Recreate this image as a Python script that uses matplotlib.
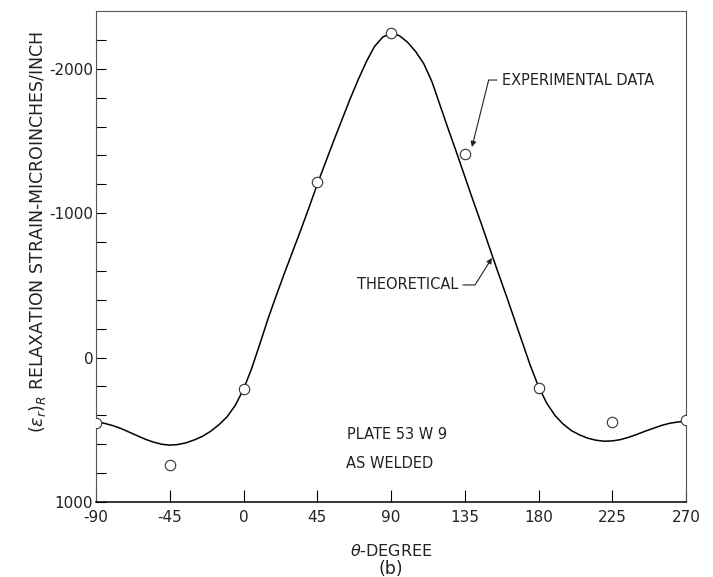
import numpy as np
import matplotlib.pyplot as plt

# theoretical curve, every 5 degrees
theta_curve = [-90, -85, -80, -75, -70, -65, -60, -55, -50, -45, -40, -35, -30, -25,
               -20, -15, -10, -5, 0, 5, 10, 15, 20, 25, 30, 35, 40, 45, 50, 55, 60,
               65, 70, 75, 80, 85, 90, 95, 100, 105, 110, 115, 120, 125, 130, 135,
               140, 145, 150, 155, 160, 165, 170, 175, 180, 185, 190, 195, 200, 205,
               210, 215, 220, 225, 230, 235, 240, 245, 250, 255, 260, 265, 270]
strain_curve = [445, 455, 470, 490, 515, 540, 565, 585, 600, 606, 602, 590, 570, 545,
                510, 465, 410, 330, 220, 75, -95, -270, -430, -585, -735, -885, -1040,
                -1200, -1350, -1500, -1645, -1790, -1925, -2050, -2155, -2220, -2245,
                -2230, -2185, -2120, -2035, -1910, -1745, -1580, -1420, -1255, -1090,
                -930, -765, -600, -440, -275, -110, 55, 200, 315, 400, 460, 505, 535,
                558, 572, 579, 577, 568, 552, 532, 510, 490, 470, 455, 446, 441]

# experimental points
theta_exp = [-90, -45, 0, 45, 90, 135, 180, 225, 270]
strain_exp = [455, 745, 220, -1215, -2245, -1407, 210, 448, 430]

xticks = [-90, -45, 0, 45, 90, 135, 180, 225, 270]
yticks = [-2000, -1000, 0, 1000]

plt.rcParams['font.family'] = 'DejaVu Sans'
fig = plt.figure(figsize=(7.13, 5.77), dpi=100)
ax = fig.add_axes([96/713, 1-502/577, 590/713, 491/577])

ax.plot(theta_curve, strain_curve, '-', color='black', linewidth=1.1)
ax.plot(theta_exp, strain_exp, 'o', markersize=7.5, markerfacecolor='white',
        markeredgecolor='#333333', markeredgewidth=0.8, zorder=3)

ax.set_xlim(-90, 270)
ax.set_ylim(1000, -2400)
ax.set_xticks(xticks)
ax.set_xticklabels([str(t) for t in xticks], fontsize=11, color='#222222')
ax.set_yticks(yticks)
ax.set_yticklabels([str(t) for t in yticks], fontsize=11, color='#222222')
ax.set_yticks(np.arange(-2200, 1000, 200), minor=True)
ax.tick_params(axis='y', which='both', direction='in', length=7, width=0.8, pad=2)
ax.tick_params(axis='x', which='both', direction='in', length=9, width=0.8, pad=6)

for s in ['left', 'right', 'top']:
    ax.spines[s].set_color('#555555')
    ax.spines[s].set_linewidth(0.8)
ax.spines['bottom'].set_linewidth(1.1)

# labels
fig.text(38/713, 1-232/577, r'$(\epsilon_r)_R$ RELAXATION STRAIN-MICROINCHES/INCH',
         rotation=90, ha='center', va='center', fontsize=12.5, color='#222222')
fig.text(391/713, 1-551/577, r'$\theta$-DEGREE', ha='center', va='center',
         fontsize=11.5, color='#222222')
fig.text(391/713, 1-569/577, '(b)', ha='center', va='center', fontsize=12.5,
         color='#222222')

ax.text(157.7, -1922, 'EXPERIMENTAL DATA', ha='left', va='center', fontsize=10.5,
        color='#222222')
ax.annotate('', xy=(139.4, -1458), xytext=(154.6, -1922),
            arrowprops=dict(arrowstyle='-|>', color='#222222', lw=0.8, mutation_scale=8,
                            shrinkA=0, shrinkB=0,
                            connectionstyle='angle,angleA=0,angleB=76,rad=0'))

ax.text(69.3, -503, 'THEORETICAL', ha='left', va='center', fontsize=10.5,
        color='#222222')
ax.annotate('', xy=(151.6, -690), xytext=(133.9, -503),
            arrowprops=dict(arrowstyle='-|>', color='#222222', lw=0.8, mutation_scale=8,
                            shrinkA=0, shrinkB=0,
                            connectionstyle='angle,angleA=0,angleB=58,rad=0'))

ax.text(93.7, 536, 'PLATE 53 W 9', ha='center', va='center', fontsize=10.5,
        color='#222222')
ax.text(89.4, 730, 'AS WELDED', ha='center', va='center', fontsize=10.5,
        color='#222222')

fig.savefig('out.png', dpi=100)
